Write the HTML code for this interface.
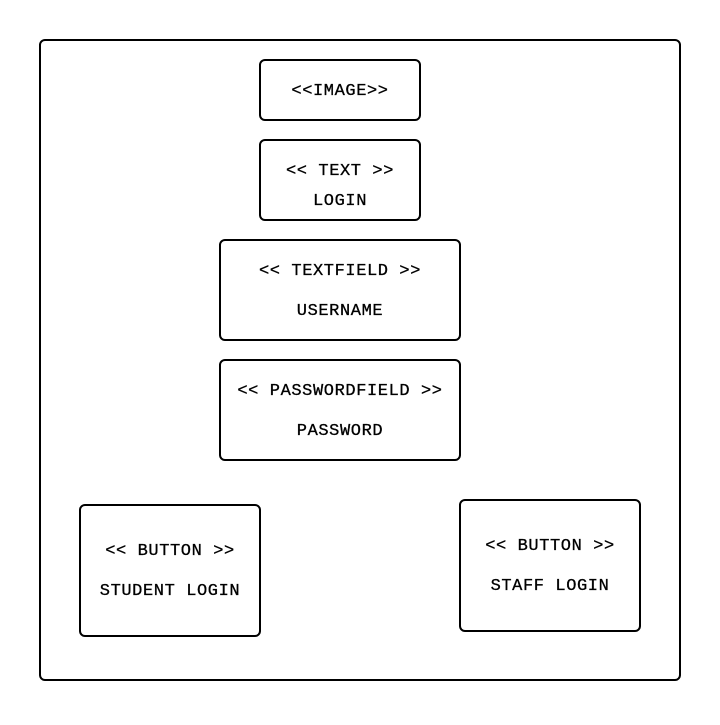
<!DOCTYPE html>
<html><head><style>body{margin:0;background:#fff}</style></head><body>
<svg width="720" height="720" xmlns="http://www.w3.org/2000/svg" font-family="Liberation Mono, monospace" font-size="17" letter-spacing="0.6" text-anchor="middle">
<rect width="720" height="720" fill="#fff"/>
<g fill="none" stroke="#000" stroke-width="2">
<rect x="40" y="40" width="640" height="640" rx="5"/>
<rect x="260" y="60" width="160" height="60" rx="5"/>
<rect x="260" y="140" width="160" height="80" rx="5"/>
<rect x="220" y="240" width="240" height="100" rx="5"/>
<rect x="220" y="360" width="240" height="100" rx="5"/>
<rect x="80" y="505" width="180" height="131" rx="5"/>
<rect x="460" y="500" width="180" height="131" rx="5"/>
</g>
<g fill="#000" stroke="#000" stroke-width="0.3">
<text x="340" y="95">&lt;&lt;IMAGE&gt;&gt;</text>
<text x="340" y="175">&lt;&lt; TEXT &gt;&gt;</text>
<text x="340" y="205">LOGIN</text>
<text x="340" y="275">&lt;&lt; TEXTFIELD &gt;&gt;</text>
<text x="340" y="315">USERNAME</text>
<text x="340" y="395">&lt;&lt; PASSWORDFIELD &gt;&gt;</text>
<text x="340" y="435">PASSWORD</text>
<text x="170" y="555">&lt;&lt; BUTTON &gt;&gt;</text>
<text x="170" y="595">STUDENT LOGIN</text>
<text x="550" y="550">&lt;&lt; BUTTON &gt;&gt;</text>
<text x="550" y="590">STAFF LOGIN</text>
</g>
</svg>
</body></html>
